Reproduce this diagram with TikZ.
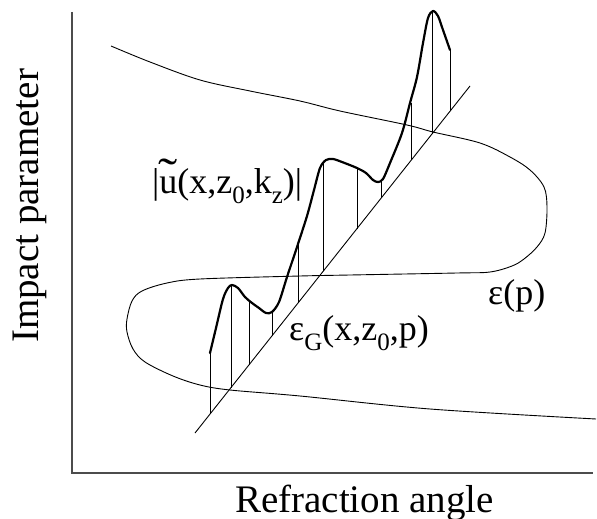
\documentclass[tikz,border=0pt]{standalone}
\usepackage{graphicx}
\usepackage{fontspec}
\setmainfont{Liberation Serif}
\newcommand\sbs[1]{\raisebox{-0.28em}{\fontsize{25}{25}\selectfont #1}}
\newcommand\wtu{\ooalign{u\cr\hidewidth\raisebox{0.06em}{\scalebox{1.6}[1.3]{\char"02DC}}\hidewidth\cr}}
\begin{document}
\begin{tikzpicture}[x=1pt,y=-1pt,
  curveline/.style={line width=0.9pt, line join=round},
  axis/.style={line width=1.1pt, black!70},
  envelope/.style={line width=2.2pt, line join=round, line cap=round},
  hatch/.style={line width=0.8pt},
  lbl/.style={inner sep=0pt, font=\fontsize{36}{36}\selectfont, anchor=base west},
  axlbl/.style={inner sep=0pt, font=\fontsize{39}{39}\selectfont}]
\useasboundingbox (0,0) rectangle (597,519);
% axes
\coordinate (O) at (72,473);
\coordinate (ytop) at (72,12);
\coordinate (xend) at (593,473);
\draw[axis] (ytop) -- (O) -- (xend);
\node[axlbl, anchor=base west] (xlabel) at (235,512) {Refraction angle};
\node[axlbl, rotate=90, anchor=base] (ylabel) at (38,206) {Impact parameter};
% epsilon(p) curve
\draw[curveline] plot[smooth, tension=0.55] coordinates {
 (111,46) (150,62) (200,80) (250,91) (300,101) (340,111) (407,125) (433,132)
 (480,143) (510,157) (530,170) (544,187) (547,207) (545,233) (537,247)
 (524,259) (512,266) (490,272) (457,273) (350,275) (300,276) (200,279)
 (167,283) (142,291) (132,301) (127,319) (127,332) (133,349) (145,362)
 (173,376) (200,385) (230,390) (300,396) (430,409) (596,419)};
% slanted line epsilon_G
\coordinate (gA) at (195,433);
\coordinate (gB) at (470,86);
\draw[curveline] (gA) -- (gB);
% hatching
\foreach \x/\t in {210/353, 231/285, 249/301, 272/312, 298/245, 323/161,
                   357/168, 381/181, 411/103, 432/11, 450/50}{
  \pgfmathsetmacro\b{433-1.2618*(\x-195)}
  \draw[hatch] (\x,\t) -- (\x,\b);
}
% envelope |u|
\draw[envelope] plot[smooth, tension=0.5] coordinates {
 (210,353) (216,328) (223,299) (228,288) (232,285) (238,288) (245,297)
 (252,303) (259,308) (266,313) (272,312) (279,302) (287,277) (297,247)
 (307,216) (314,190) (320,168) (326,160) (333,159) (342,162) (357,168)
 (366,173) (373,180) (378,182) (383,179) (390,163) (402,133) (410,103)
 (417,77) (423,43) (428,18) (433,11) (438,16) (443,30) (450,50)};
% labels
\node[lbl] (ulabel) at (152,193) {|\wtu(x,z\sbs{0},k\sbs{z})|};
\node[lbl] (eglabel) at (289,340) {ε\sbs{G}(x,z\sbs{0},p)};
\node[lbl] (eplabel) at (488,304) {ε(p)};
\end{tikzpicture}
\end{document}
